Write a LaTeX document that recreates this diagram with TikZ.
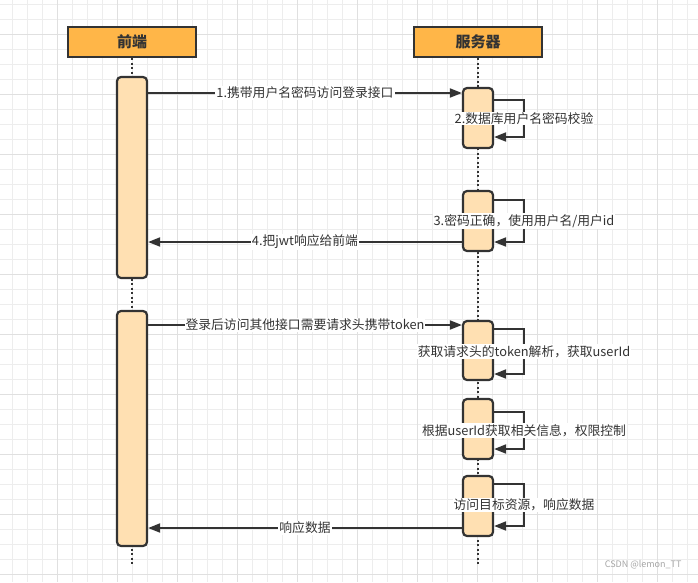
\documentclass[tikz,border=0pt]{standalone}
\usepackage{fontspec}
\setmainfont{Noto Sans CJK SC}
\usetikzlibrary{arrows.meta}
\definecolor{head_orange}{RGB}{255,182,72}
\definecolor{bar_peach}{RGB}{255,224,178}
\definecolor{line_dark}{RGB}{51,51,51}
\definecolor{grid_light}{RGB}{237,237,237}
\definecolor{grid_mid}{RGB}{224,224,224}

\begin{document}
\begin{tikzpicture}[x=1pt,y=-1pt,>={Triangle[length=12pt,width=9pt]}]
    \tikzstyle{head}=[draw=line_dark, line width=2.2pt, fill=head_orange, minimum width=128pt, minimum height=30pt, inner sep=0pt, text=line_dark, font=\fontsize{15}{15}\selectfont\bfseries]
    \tikzstyle{bar}=[draw=line_dark, line width=2.2pt, fill=bar_peach, rounded corners=4pt, minimum width=30pt, inner sep=0pt]
    \tikzstyle{life}=[draw=line_dark, line width=2pt, dash pattern=on 2pt off 2.5pt]
    \tikzstyle{msg}=[->, draw=line_dark, line width=1.8pt]
    \tikzstyle{lbl}=[fill=white, inner sep=1pt, text=line_dark, font=\fontsize{12.8}{13}\selectfont]

    \useasboundingbox[fill=white] (0,0) rectangle (698,582);
    % grid
    \foreach \x in {12.7,27.7,...,698} \draw[grid_light, line width=1pt] (\x,0) -- (\x,582);
    \foreach \y in {4,19,...,582} \draw[grid_light, line width=1pt] (0,\y) -- (698,\y);
    \foreach \x in {57.7,117.7,...,698} \draw[grid_mid, line width=1pt] (\x,0) -- (\x,582);
    \foreach \y in {34,94,...,582} \draw[grid_mid, line width=1pt] (0,\y) -- (698,\y);

    \node[head] (fe) at (132,42)  {前端};
    \node[head] (be) at (478,42)  {服务器};
    \coordinate (fe_end) at (132,566);
    \coordinate (be_end) at (478,566);
    \path
     (fe) edge[life] (fe_end)
     (be) edge[life] (be_end)
     ;

    \node[bar, minimum height=201pt] (l1) at (132,177.5) {};
    \node[bar, minimum height=235pt] (l2) at (132,428.5) {};
    \node[bar, minimum height=60pt]  (r1) at (478,118)   {};
    \node[bar, minimum height=60pt]  (r2) at (478,221)   {};
    \node[bar, minimum height=59pt]  (r3) at (478,350.5) {};
    \node[bar, minimum height=60pt]  (r4) at (478,429)   {};
    \node[bar, minimum height=60pt]  (r5) at (478,506)   {};

    \path
     (l1.east |- 0,93)  edge[msg] node[lbl] {1.携带用户名密码访问登录接口} (r1.west |- 0,93)
     (r2.west |- 0,242) edge[msg] node[lbl] {4.把jwt响应给前端} (l1.east |- 0,242)
     (l2.east |- 0,325) edge[msg] node[lbl] {登录后访问其他接口需要请求头携带token} (r3.west |- 0,325)
     (r5.west |- 0,528) edge[msg] node[lbl] {响应数据} (l2.east |- 0,528)
     ;

    \draw[msg] (r1.east |- 0,100) -- (524,100) |- node[lbl,pos=0.25] {2.数据库用户名密码校验} (r1.east |- 0,137);
    \draw[msg] (r2.east |- 0,200) -- (524,200) |- node[lbl,pos=0.25] {3.密码正确，使用用户名/用户id} (r2.east |- 0,242);
    \draw[msg] (r3.east |- 0,329) -- (524,329) |- node[lbl,pos=0.25] {获取请求头的token解析，获取userId} (r3.east |- 0,374);
    \draw[msg] (r4.east |- 0,412) -- (524,412) |- node[lbl,pos=0.25] {根据userId获取相关信息，权限控制} (r4.east |- 0,449);
    \draw[msg] (r5.east |- 0,484) -- (524,484) |- node[lbl,pos=0.25] {访问目标资源，响应数据} (r5.east |- 0,526);

    \node[anchor=east, text=gray!70, font=\fontsize{9}{9}\selectfont] (mark) at (685,565) {CSDN @lemon\_TT};
\end{tikzpicture}
\end{document}
